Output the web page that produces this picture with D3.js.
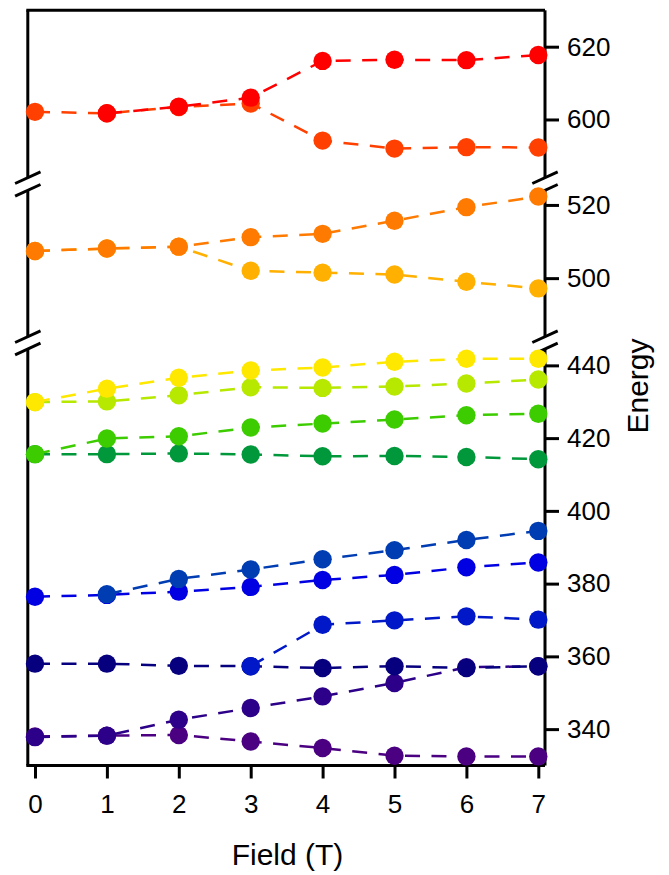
<!DOCTYPE html>
<html>
<head>
<meta charset="utf-8">
<script src="https://cdn.jsdelivr.net/npm/d3@7"></script>
<style>
    body { margin: 0; background: #fff; }
    text { font-family: "Liberation Sans", Arial, sans-serif; fill: #000; }
</style>
</head>
<body>
<svg id="viz"></svg>
<script>
let width = 669;
let height = 875;

// Field (T) values
const fields = [0, 1, 2, 3, 4, 5, 6, 7];

// Energy levels, one array per branch (null = no point)
const redE       = [null, 601.7, 603.5, 606.0, 616.1, 616.4, 616.3, 617.7];
const orangeRedE = [602.1, 601.7, 603.4, 604.4, 594.2, 592.0, 592.4, 592.3];
const amberE     = [507.4, 508.1, 508.6, 502.0, 501.5, 501.0, 499.0, 497.2];
const orangeE    = [507.4, 508.1, 508.6, 511.2, 512.1, 515.7, 519.4, 522.3];
const limeE      = [429.9, 430.1, 431.8, 434.0, 433.8, 434.2, 435.0, 436.1];
const yellowE    = [429.9, 433.6, 436.6, 438.6, 439.4, 441.0, 441.8, 441.8];
const darkGreenE = [415.6, 415.6, 415.8, 415.5, 415.0, 415.1, 414.8, 414.2];
const greenE     = [415.6, 419.9, 420.5, 422.9, 424.0, 425.1, 426.3, 426.7];
const blueE      = [376.4, 376.9, 377.8, 379.1, 381.0, 382.4, 384.5, 385.8];
const cobaltE    = [null, 377.1, 381.3, 383.9, 386.7, 389.2, 392.0, 394.5];
const violetE    = [338.0, 338.2, 338.4, 336.6, 334.8, 332.7, 332.5, 332.5];
const indigoE    = [337.8, 338.2, 342.6, 345.8, 349.0, 352.7, 357.0, 357.3];
const navyE      = [358.0, 358.0, 357.4, 357.3, 356.8, 357.3, 356.8, 357.3];
const royalE     = [null, null, null, 357.3, 368.7, 369.9, 371.0, 370.1];

// y-axis segments of the broken axis
const topDomain = [584, 630];
const midDomain = [484, 524];
const lowDomain = [330, 444.5];
const topMajor = [600, 620], topMinor = [590, 610, 630];
const midMajor = [500, 520], midMinor = [490, 510];
const lowMajor = [340, 360, 380, 400, 420, 440], lowMinor = [330, 350, 370, 390, 410, 430];

let svg = d3.select("#viz")
    .attr("width", width)
    .attr("height", height);

let x = d3.scaleLinear().domain([-0.1, 7.1]).range([27.8, 545.5]);
let left = x(-0.1), right = 545;

let panels = [
    { y: d3.scaleLinear().domain(topDomain).range([177.7, 10.3]), major: topMajor, minor: topMinor },
    { y: d3.scaleLinear().domain(midDomain).range([336.7, 190.3]), major: midMajor, minor: midMinor },
    { y: d3.scaleLinear().domain(lowDomain).range([765.5, 349]), major: lowMajor, minor: lowMinor }
];

let series = [
    { v: orangeRedE, c: "#ff4000", p: 0 },
    { v: redE,       c: "#ff0000", p: 0 },
    { v: amberE,     c: "#ffb000", p: 1 },
    { v: orangeE,    c: "#ff7a00", p: 1 },
    { v: limeE,      c: "#b6e800", p: 2 },
    { v: yellowE,    c: "#ffe800", p: 2 },
    { v: darkGreenE, c: "#00983a", p: 2 },
    { v: greenE,     c: "#3ccc00", p: 2 },
    { v: blueE,      c: "#0000e2", p: 2 },
    { v: cobaltE,    c: "#003cb2", p: 2 },
    { v: violetE,    c: "#4b0082", p: 2 },
    { v: indigoE,    c: "#2c0088", p: 2 },
    { v: navyE,      c: "#06007e", p: 2 },
    { v: royalE,     c: "#0018c8", p: 2 }
];

// axes
for (const pn of panels) {
    let r = pn.y.range();
    let g = svg.append("g").attr("transform", `translate(${right},0)`);
    g.call(d3.axisRight(pn.y).tickValues(pn.minor).tickSize(8).tickFormat(""));
    g.call(d3.axisRight(pn.y).tickValues(pn.major).tickSize(14).tickPadding(8).tickFormat(d3.format("d")))
        .call(s => s.selectAll(".domain").remove())
        .call(s => s.selectAll("line").attr("stroke-width", 3))
        .call(s => s.selectAll("text").attr("font-size", 26));

    for (const ax of [left, right]) {
        svg.append("line")
            .attr("x1", ax).attr("x2", ax)
            .attr("y1", r[0]).attr("y2", r[1])
            .attr("stroke", "#000").attr("stroke-width", 3);
    }
}

// break marks
let breaks = [177.7, 190.3, 336.7, 349];
for (const by of breaks) {
    for (const ax of [left, right]) {
        svg.append("line")
            .attr("x1", ax - 12.7).attr("y1", by + 5.8)
            .attr("x2", ax + 12.7).attr("y2", by - 5.8)
            .attr("stroke", "#000").attr("stroke-width", 3);
    }
}

// top frame line
svg.append("line")
    .attr("x1", left - 1.5).attr("x2", right)
    .attr("y1", 10.3).attr("y2", 10.3)
    .attr("stroke", "#000").attr("stroke-width", 3);

// x axis
let xg = svg.append("g")
    .attr("transform", "translate(0,765.5)")
    .call(d3.axisBottom(x).tickValues(fields).tickSize(13).tickSizeOuter(0).tickPadding(16))
    .call(s => s.selectAll(".domain").remove())
    .call(s => s.selectAll("line").attr("stroke-width", 3))
    .call(s => s.selectAll("text").attr("font-size", 26));

svg.append("line")
    .attr("x1", left - 1.5).attr("x2", right)
    .attr("y1", 765.5).attr("y2", 765.5)
    .attr("stroke", "#000").attr("stroke-width", 3);

// data
for (const s of series) {
    let y = panels[s.p].y;
    let pts = fields.map((f, i) => ({ f: f, v: s.v[i] }));
    let line = d3.line()
        .defined(d => d.v != null)
        .x(d => x(d.f))
        .y(d => y(d.v));

    svg.append("path")
        .datum(pts)
        .attr("d", line)
        .attr("fill", "none")
        .attr("stroke", s.c)
        .attr("stroke-width", 2.5)
        .attr("stroke-dasharray", "15,11.5");

    svg.append("g").selectAll("circle")
        .data(pts.filter(d => d.v != null))
        .enter()
        .append("circle")
        .attr("cx", d => x(d.f))
        .attr("cy", d => y(d.v))
        .attr("r", 9.2)
        .attr("fill", s.c);
}

// titles
svg.append("text")
    .attr("x", 287.5).attr("y", 865)
    .attr("text-anchor", "middle")
    .attr("font-size", 30)
    .text("Field (T)");

svg.append("text")
    .attr("transform", "translate(647.7,386) rotate(-90)")
    .attr("text-anchor", "middle")
    .attr("font-size", 30)
    .text("Energy");
</script>
</body>
</html>
